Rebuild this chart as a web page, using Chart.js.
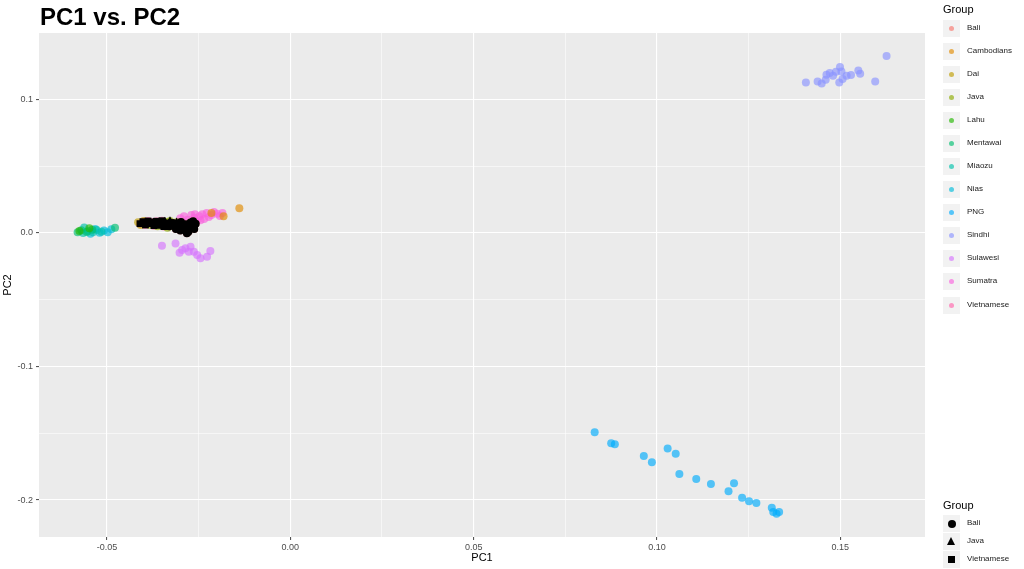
<!DOCTYPE html>
<html>
<head>
<meta charset="utf-8">
<title>PC1 vs. PC2</title>
<script src="https://cdn.jsdelivr.net/npm/chart.js@4.4.1/dist/chart.umd.min.js"></script>
<style>
  body { margin: 0; background: #fff; font-family: "Liberation Sans", Arial, Helvetica, sans-serif; }
  #wrap { position: relative; width: 1024px; height: 569px; overflow: hidden; }
  #pca { position: absolute; left: 0; top: 0; }
  #title { position: absolute; left: 40px; top: 5px; font-size: 24px; line-height: 24px; font-weight: bold; color: #000; }
  .lg-title { position: absolute; left: 943px; font-size: 11px; line-height: 11px; color: #000; }
  .lg-key { position: absolute; left: 943px; width: 17px; height: 17px; background: #f2f2f2; }
  .lg-lab { position: absolute; left: 967px; font-size: 8px; line-height: 8px; color: #1a1a1a; white-space: nowrap; }
</style>
</head>
<body>
<div id="wrap">
  <canvas id="pca" width="1024" height="569"></canvas>
  <div id="title">PC1 vs. PC2</div>
  <div id="legends"></div>
</div>
<script>
// grupos (colores ggplot por defecto)
const groupNames = ['Bali', 'Cambodians', 'Dai', 'Java', 'Lahu', 'Mentawai', 'Miaozu', 'Nias', 'PNG', 'Sindhi', 'Sulawesi', 'Sumatra', 'Vietnamese'];
const groupColors = ['#F8766D', '#E18A00', '#BE9C00', '#8CAB00', '#24B700', '#00BE70', '#00C1AB', '#00BBDA', '#00ACFC', '#8B93FF', '#D575FE', '#F962DD', '#FF65AC'];

// puntos [PC1, PC2]
const baliPts = [[-0.0330, 0.0050], [-0.0320, 0.0075], [-0.0312, 0.0030], [-0.0305, 0.0058], [-0.0298, 0.0082], [-0.0292, 0.0028], [-0.0285, 0.0065], [-0.0280, 0.0040], [-0.0278, 0.0010], [-0.0272, 0.0078], [-0.0268, 0.0052], [-0.0262, 0.0030], [-0.0258, 0.0070], [-0.0282, -0.0002], [-0.0300, 0.0018], [-0.0265, 0.0088]];
const cambodiansPts = [[-0.0139, 0.0185], [-0.0182, 0.0125], [-0.0215, 0.0150], [-0.0395, 0.0082], [-0.0360, 0.0072]];
const daiPts = [[-0.0415, 0.0080], [-0.0408, 0.0060], [-0.0400, 0.0090], [-0.0390, 0.0070]];
const javaPts = [[-0.0385, 0.0062], [-0.0370, 0.0078], [-0.0362, 0.0050], [-0.0352, 0.0070], [-0.0342, 0.0085], [-0.0335, 0.0040], [-0.0325, 0.0068], [-0.0318, 0.0052], [-0.0310, 0.0080], [-0.0302, 0.0035], [-0.0295, 0.0062], [-0.0288, 0.0045], [-0.0348, 0.0058], [-0.0328, 0.0090]];
const lahuPts = [[-0.0575, 0.0015], [-0.0548, 0.0035]];
const mentawaiPts = [[-0.0580, 0.0005], [-0.0570, 0.0020], [-0.0555, 0.0008], [-0.0540, 0.0025], [-0.0478, 0.0040]];
const miaozuPts = [[-0.0565, 0.0000], [-0.0562, 0.0042], [-0.0552, 0.0015], [-0.0538, 0.0005], [-0.0528, 0.0022], [-0.0515, 0.0010]];
const niasPts = [[-0.0545, -0.0005], [-0.0532, 0.0030], [-0.0520, 0.0002], [-0.0508, 0.0018], [-0.0498, 0.0005], [-0.0488, 0.0028]];
const pngPts = [[0.0830, -0.1493], [0.0875, -0.1575], [0.0885, -0.1583], [0.0964, -0.1670], [0.0986, -0.1718], [0.1029, -0.1615], [0.1051, -0.1653], [0.1061, -0.1805], [0.1107, -0.1843], [0.1147, -0.1880], [0.1195, -0.1935], [0.1210, -0.1875], [0.1232, -0.1983], [0.1251, -0.2010], [0.1271, -0.2023], [0.1313, -0.2058], [0.1317, -0.2090], [0.1326, -0.2103], [0.1333, -0.2090]];
const sindhiPts = [[0.1406, 0.1128], [0.1438, 0.1135], [0.1449, 0.1120], [0.1460, 0.1148], [0.1462, 0.1185], [0.1471, 0.1198], [0.1480, 0.1178], [0.1488, 0.1208], [0.1499, 0.1243], [0.1503, 0.1210], [0.1497, 0.1128], [0.1506, 0.1153], [0.1517, 0.1178], [0.1529, 0.1183], [0.1549, 0.1218], [0.1554, 0.1193], [0.1595, 0.1135], [0.1626, 0.1326]];
const sulawesiPts = [[-0.0350, -0.0095], [-0.0313, -0.0078], [-0.0302, -0.0148], [-0.0286, -0.0115], [-0.0272, -0.0103], [-0.0263, -0.0140], [-0.0254, -0.0165], [-0.0245, -0.0190], [-0.0227, -0.0178], [-0.0218, -0.0135], [-0.0277, -0.0140], [-0.0295, -0.0128]];
const sumatraPts = [[-0.0300, 0.0110], [-0.0290, 0.0125], [-0.0280, 0.0100], [-0.0270, 0.0135], [-0.0262, 0.0115], [-0.0255, 0.0090], [-0.0248, 0.0125], [-0.0240, 0.0140], [-0.0235, 0.0105], [-0.0228, 0.0150], [-0.0222, 0.0120], [-0.0215, 0.0135], [-0.0208, 0.0158], [-0.0200, 0.0145], [-0.0192, 0.0128], [-0.0185, 0.0150], [-0.0245, 0.0095], [-0.0260, 0.0140]];
const vietnamesePts = [[-0.0410, 0.0070], [-0.0402, 0.0085], [-0.0395, 0.0060], [-0.0388, 0.0090], [-0.0380, 0.0072], [-0.0372, 0.0055], [-0.0365, 0.0088], [-0.0358, 0.0065], [-0.0350, 0.0092], [-0.0345, 0.0048], [-0.0338, 0.0075], [-0.0330, 0.0060], [-0.0398, 0.0078], [-0.0376, 0.0083]];

const groupPoints = [baliPts, cambodiansPts, daiPts, javaPts, lahuPts, mentawaiPts, miaozuPts, niasPts, pngPts, sindhiPts, sulawesiPts, sumatraPts, vietnamesePts];

// segunda leyenda: forma (en negro)
const shapeNames = ['Bali', 'Java', 'Vietnamese'];
const shapeStyles = ['circle', 'triangle', 'rect'];
const shapePoints = [baliPts, javaPts, vietnamesePts];

// ejes
const xMajor = [-0.05, 0, 0.05, 0.10, 0.15];
const xLabels = ['-0.05', '0.00', '0.05', '0.10', '0.15'];
const xMinor = [-0.025, 0.025, 0.075, 0.125];
const yMajor = [-0.2, -0.1, 0, 0.1];
const yLabels = ['-0.2', '-0.1', '0.0', '0.1'];
const yMinor = [-0.15, -0.05, 0.05];

const FONT = '"Liberation Sans", Arial, Helvetica, sans-serif';

function alpha(hex, a) {
    const n = parseInt(hex.slice(1), 16);
    return `rgba(${n >> 16}, ${(n >> 8) & 255}, ${n & 255}, ${a})`;
}
function idxOf(list, v) {
    return list.findIndex(t => Math.abs(t - v) < 1e-9);
}
function toXY(pts) {
    return pts.map(p => ({ x: p[0], y: p[1] }));
}

// fondo gris del panel
const panelBg = {
    id: 'panelBg',
    beforeDraw(chart) {
        const { ctx, chartArea: a } = chart;
        ctx.save();
        ctx.fillStyle = '#ebebeb';
        ctx.fillRect(a.left, a.top, a.right - a.left, a.bottom - a.top);
        ctx.restore();
    }
};

const datasets = [];
groupNames.forEach((g, i) => {
    datasets.push({
        label: g,
        data: toXY(groupPoints[i]),
        backgroundColor: alpha(groupColors[i], 0.65),
        borderWidth: 0,
        pointRadius: 4,
        order: 2
    });
});
shapeNames.forEach((s, i) => {
    datasets.push({
        label: s + ' (forma)',
        data: toXY(shapePoints[i]),
        pointStyle: shapeStyles[i],
        backgroundColor: '#000',
        borderColor: '#000',
        borderWidth: 0,
        pointRadius: shapeStyles[i] === 'circle' ? 4 : 4.8,
        order: 1
    });
});

function axisOpts(major, labels, minor, isX) {
    const all = major.concat(minor).sort((a, b) => a - b);
    return {
        type: 'linear',
        min: isX ? -0.06853 : -0.2277,
        max: isX ? 0.17308 : 0.1498,
        afterBuildTicks: axis => { axis.ticks = all.map(v => ({ value: v })); },
        afterFit: s => { if (isX) s.height = 32; else s.width = 39; },
        border: { display: false },
        grid: {
            color: '#ffffff',
            lineWidth: c => idxOf(major, c.tick.value) >= 0 ? 1.1 : 0.55,
            tickColor: c => idxOf(major, c.tick.value) >= 0 ? '#555555' : 'rgba(0,0,0,0)',
            tickLength: 3,
            drawTicks: true
        },
        ticks: {
            autoSkip: false,
            maxRotation: 0,
            padding: isX ? 2 : 3,
            color: '#4d4d4d',
            font: { family: FONT, size: 9 },
            callback: v => { const k = idxOf(major, v); return k >= 0 ? labels[k] : ''; }
        },
        title: {
            display: true,
            text: isX ? 'PC1' : 'PC2',
            color: '#000',
            font: { family: FONT, size: 11 },
            padding: isX ? { top: 0, bottom: 4 } : { top: 1, bottom: 0 }
        }
    };
}

new Chart(document.getElementById('pca'), {
    type: 'scatter',
    data: { datasets: datasets },
    options: {
        responsive: false,
        animation: false,
        events: [],
        layout: { padding: { left: 0, top: 33, right: 99, bottom: 0 } },
        plugins: { legend: { display: false }, tooltip: { enabled: false } },
        scales: {
            x: axisOpts(xMajor, xLabels, xMinor, true),
            y: axisOpts(yMajor, yLabels, yMinor, false)
        }
    },
    plugins: [panelBg]
});

// leyendas al estilo ggplot
const lg = document.getElementById('legends');
function addEl(cls, css, html) {
    const d = document.createElement('div');
    d.className = cls;
    d.style.cssText = css;
    if (html) d.innerHTML = html;
    lg.appendChild(d);
    return d;
}
addEl('lg-title', 'top:4px;', 'Group');
groupNames.forEach((g, i) => {
    const cy = 28.3 + 23.06 * i;
    addEl('lg-key', `top:${cy - 8.5}px;`,
        `<div style="position:absolute;left:6px;top:6px;width:5px;height:5px;border-radius:50%;background:${alpha(groupColors[i], 0.65)}"></div>`);
    addEl('lg-lab', `top:${cy - 4.5}px;`, g);
});
addEl('lg-title', 'top:500px;', 'Group');
const shapeMarks = [
    '<div style="position:absolute;left:4.5px;top:4.5px;width:8px;height:8px;border-radius:50%;background:#000"></div>',
    '<div style="position:absolute;left:4px;top:4px;width:0;height:0;border-left:4.5px solid transparent;border-right:4.5px solid transparent;border-bottom:8px solid #000"></div>',
    '<div style="position:absolute;left:5px;top:5px;width:7px;height:7px;background:#000"></div>'
];
shapeNames.forEach((s, i) => {
    const cy = 523.5 + 17.8 * i;
    addEl('lg-key', `top:${cy - 8.5}px;`, shapeMarks[i]);
    addEl('lg-lab', `top:${cy - 4.5}px;`, s);
});
</script>
</body>
</html>
